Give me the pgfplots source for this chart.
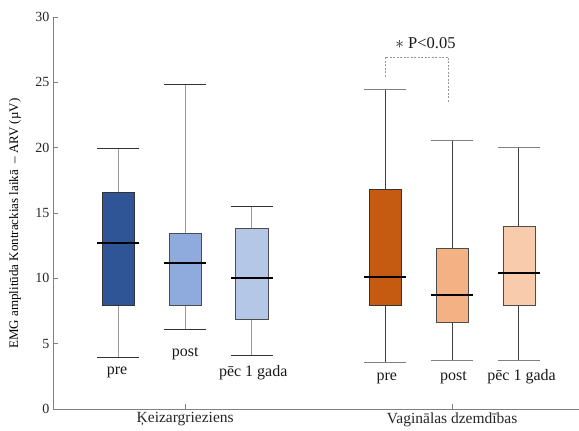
\documentclass[border=0pt]{standalone}
\usepackage{fontspec}
\setmainfont{Liberation Serif}
\usepackage{pgfplots}
\pgfplotsset{compat=1.18}
\usepgfplotslibrary{statistics}
\definecolor{bA}{HTML}{2F5597}
\definecolor{bB}{HTML}{8FAADC}
\definecolor{bC}{HTML}{B4C7E7}
\definecolor{oA}{HTML}{C55A11}
\definecolor{oB}{HTML}{F4B183}
\definecolor{oC}{HTML}{F8CBAD}
\pgfplotsset{
 boxplot/every cap/.style={black!80, line width=0.9pt},
 grpA/.style={boxplot/every whisker/.style={black!40, line width=0.9pt}, boxplot/every cap/.style={black!80, line width=0.9pt}},
 grpB/.style={boxplot/every whisker/.style={black!75, line width=0.9pt}, boxplot/every cap/.style={black!50, line width=0.9pt}},
}
\begin{document}
\begin{tikzpicture}
\begin{axis}[name=ax, scale only axis, width=526pt, height=392pt,
 xmin=0.02, xmax=7.9, ymin=0, ymax=30,
 axis x line*=bottom, axis y line*=left,
 axis line style={black!50, line width=0.8pt},
 xtick={2,6}, xticklabels={Ķeizargrieziens, Vaginālas dzemdības},
 ytick={0,5,...,30},
 major tick length=5pt, tick style={black!50, line width=0.8pt},
 tick align=inside,
 ticklabel style={font=\fontsize{14}{16}\selectfont, text=black!85},
 x tick label style={font=\fontsize{15.5}{18}\selectfont},
 /pgf/number format/assume math mode=true,
 ylabel={EMG amplitūda Kontrackias laikā\ \ – ARV (µV)},
 every axis y label/.style={at={(axis description cs:-0.072,0.473)}, rotate=90, anchor=center, font=\fontsize{13}{15}\selectfont},
 boxplot/draw direction=y,
 boxplot/every median/.style={black, line width=1.8pt},
 boxplot/draw/median/.code={\draw[/pgfplots/boxplot/every median/.try] (boxplot whisker cs:\pgfplotsboxplotvalue{median},0) -- (boxplot whisker cs:\pgfplotsboxplotvalue{median},1);},
 boxplot/draw/lower whisker/.code={\draw[/pgfplots/boxplot/every whisker/.try] (boxplot cs:\pgfplotsboxplotvalue{lower quartile}) -- (boxplot cs:\pgfplotsboxplotvalue{lower whisker}); \draw[/pgfplots/boxplot/every cap/.try] (boxplot whisker cs:\pgfplotsboxplotvalue{lower whisker},0) -- (boxplot whisker cs:\pgfplotsboxplotvalue{lower whisker},1);},
 boxplot/draw/upper whisker/.code={\draw[/pgfplots/boxplot/every whisker/.try] (boxplot cs:\pgfplotsboxplotvalue{upper quartile}) -- (boxplot cs:\pgfplotsboxplotvalue{upper whisker}); \draw[/pgfplots/boxplot/every cap/.try] (boxplot whisker cs:\pgfplotsboxplotvalue{upper whisker},0) -- (boxplot whisker cs:\pgfplotsboxplotvalue{upper whisker},1);},
 clip=false,
]
\addplot[grpA, boxplot prepared={lower whisker=3.93, lower quartile=7.9, median=12.68, upper quartile=16.58, upper whisker=19.95, draw position=1, box extend=0.48, whisker extend=0.63}, fill=bA, draw=black!80, line width=0.8pt] coordinates {};
\addplot[grpA, boxplot prepared={lower whisker=6.12, lower quartile=7.9, median=11.15, upper quartile=13.44, upper whisker=24.87, draw position=2, box extend=0.48, whisker extend=0.63}, fill=bB, draw=black!70, line width=0.8pt] coordinates {};
\addplot[grpA, boxplot prepared={lower whisker=4.13, lower quartile=6.83, median=10.02, upper quartile=13.8, upper whisker=15.53, draw position=3, box extend=0.48, whisker extend=0.63}, fill=bC, draw=black!70, line width=0.8pt] coordinates {};
\addplot[grpB, boxplot prepared={lower whisker=3.54, lower quartile=7.9, median=10.1, upper quartile=16.78, upper whisker=24.48, draw position=5, box extend=0.48, whisker extend=0.63}, fill=oA, draw=black!80, line width=0.8pt] coordinates {};
\addplot[grpB, boxplot prepared={lower whisker=3.72, lower quartile=6.6, median=8.7, upper quartile=12.32, upper whisker=20.56, draw position=6, box extend=0.48, whisker extend=0.63}, fill=oB, draw=black!70, line width=0.8pt] coordinates {};
\addplot[grpB, boxplot prepared={lower whisker=3.72, lower quartile=7.93, median=10.38, upper quartile=13.95, upper whisker=20.0, draw position=7, box extend=0.48, whisker extend=0.63}, fill=oC, draw=black!70, line width=0.8pt] coordinates {};
\begin{scope}[every node/.style={font=\fontsize{16}{18}\selectfont, anchor=base, text=black!90}]
\node at (axis cs:0.98,2.65) {pre};
\node at (axis cs:2.0,4.05) {post};
\node at (axis cs:3.02,2.47) {pēc 1 gada};
\node at (axis cs:5.02,2.17) {pre};
\node at (axis cs:6.02,2.17) {post};
\node at (axis cs:7.04,2.17) {pēc 1 gada};
\end{scope}
\draw[black!40, line width=0.7pt, dash pattern=on 2pt off 1.5pt] (axis cs:4.996,25.42) -- (axis cs:4.996,26.95) -- (axis cs:5.94,26.95) -- (axis cs:5.94,23.5);
\node[font=\fontsize{16.5}{18}\selectfont, text=black!90] at (axis cs:5.6,28.0) {$\ast$ P<0.05};
\end{axis}
\pgfresetboundingbox
\path[use as bounding box] ([xshift=-53pt,yshift=-22pt]ax.south west) rectangle ([yshift=17pt]ax.north east);
\end{tikzpicture}
\end{document}
